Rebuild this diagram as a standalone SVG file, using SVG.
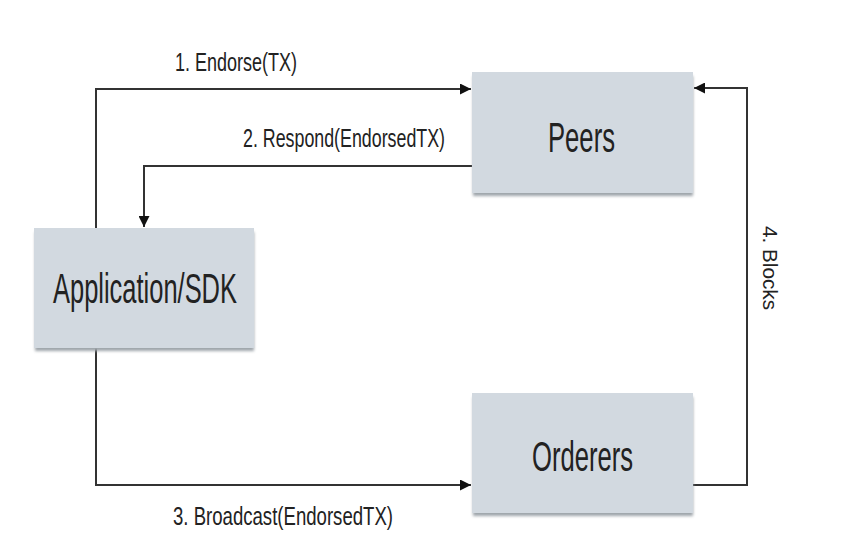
<svg xmlns="http://www.w3.org/2000/svg" width="860" height="548" viewBox="0 0 860 548">
<defs>
<style>
.box{fill:#d2d9e0;}
.shadow{fill:#9ea4aa;}
.lbl{font-family:"Liberation Sans",Arial,sans-serif;fill:#222;}
.node{font-size:42px;}
.edge{font-size:25px;}
.side{font-size:20px;}
.conn{fill:none;stroke:#333;stroke-width:2;}
</style>
<marker id="arr" viewBox="0 0 10 10" refX="10" refY="5" markerWidth="11" markerHeight="11" markerUnits="userSpaceOnUse" orient="auto">
<path d="M0,0 L10,5 L0,10 z" fill="#111"/>
</marker>
<filter id="sh" x="-5%" y="-5%" width="110%" height="120%">
<feGaussianBlur stdDeviation="1.5"/>
</filter>
</defs>
<rect width="860" height="548" fill="#fff"/>
<g id="connectors">
<path class="conn" d="M96,228 V89 H471" marker-end="url(#arr)"/>
<path class="conn" d="M472,166 H144 V227" marker-end="url(#arr)"/>
<path class="conn" d="M96,348 V485 H471" marker-end="url(#arr)"/>
<path class="conn" d="M693,485 H747 V88 H694" marker-end="url(#arr)"/>
<text class="lbl edge" x="175" y="71" textLength="122" lengthAdjust="spacingAndGlyphs">1. Endorse(TX)</text>
<text class="lbl edge" x="243" y="147" textLength="202" lengthAdjust="spacingAndGlyphs">2. Respond(EndorsedTX)</text>
<text class="lbl edge" x="173" y="525" textLength="220" lengthAdjust="spacingAndGlyphs">3. Broadcast(EndorsedTX)</text>
<text class="lbl side" transform="translate(763,226) rotate(90)" x="0" y="0" textLength="84" lengthAdjust="spacingAndGlyphs">4. Blocks</text>
</g>
<g id="peers">
<rect class="shadow" x="473" y="76" width="220" height="120" filter="url(#sh)"/>
<rect class="box" x="472" y="72" width="221" height="121"/>
<text class="lbl node" x="548" y="152" textLength="67" lengthAdjust="spacingAndGlyphs">Peers</text>
</g>
<g id="application">
<rect class="shadow" x="35" y="232" width="219" height="119" filter="url(#sh)"/>
<rect class="box" x="34" y="228" width="220" height="120"/>
<text class="lbl node" x="53" y="303" textLength="184" lengthAdjust="spacingAndGlyphs">Application/SDK</text>
</g>
<g id="orderers">
<rect class="shadow" x="473" y="397" width="220" height="119" filter="url(#sh)"/>
<rect class="box" x="472" y="393" width="221" height="120"/>
<text class="lbl node" x="532" y="471" textLength="101" lengthAdjust="spacingAndGlyphs">Orderers</text>
</g>
</svg>
